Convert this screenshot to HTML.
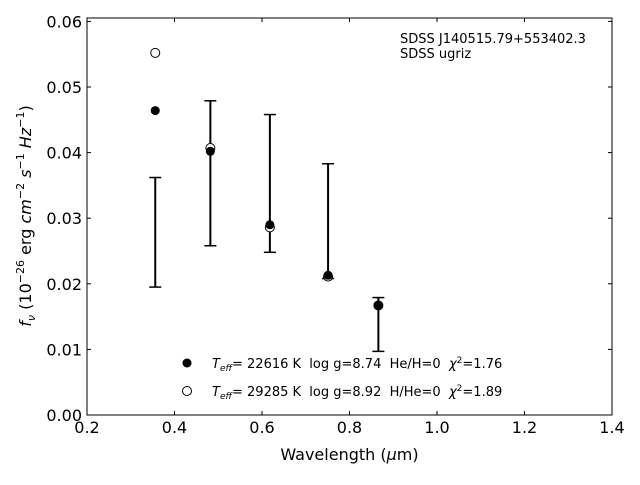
<!DOCTYPE html>
<html><head><meta charset="utf-8"><style>
body{margin:0;background:#fff;}
svg text{font-family:"DejaVu Sans","Liberation Sans",sans-serif;white-space:pre;}
</style></head><body>
<svg id="chart" width="640" height="480" xmlns="http://www.w3.org/2000/svg">
<rect x="87" y="18" width="525" height="397" fill="#fff" stroke="#000" stroke-width="1"/>
<g id="ticks"></g>
<g id="marks"></g>
<text x="349.5" y="460" font-size="16" text-anchor="middle">Wavelength (<tspan font-style="italic">μ</tspan>m)</text>
<text transform="translate(31,216) rotate(-90)" font-size="16" text-anchor="middle"><tspan font-style="italic">f</tspan><tspan font-style="italic" font-size="11" dy="4">ν</tspan><tspan dy="-4"> (10</tspan><tspan font-size="11" dy="-7">−26</tspan><tspan dy="7"> erg </tspan><tspan font-style="italic">cm</tspan><tspan font-size="11" dy="-7">−2</tspan><tspan dy="7" font-style="italic"> s</tspan><tspan font-size="11" dy="-7">−1</tspan><tspan dy="7" font-style="italic"> Hz</tspan><tspan font-size="11" dy="-7">−1</tspan><tspan dy="7">)</tspan></text>
<text x="400" y="43" font-size="13">SDSS J140515.79+553402.3</text>
<text x="400" y="58" font-size="13">SDSS ugriz</text>
<g>
<circle cx="187" cy="363" r="4.5" fill="#000"/>
<text x="212" y="368" font-size="13"><tspan font-style="italic">T</tspan><tspan font-style="italic" font-size="9" dy="3">eff</tspan><tspan dy="-3">= 22616 K  log g=8.74  He/H=0  </tspan><tspan font-style="italic">χ</tspan><tspan font-size="9" dy="-5">2</tspan><tspan dy="5">=1.76</tspan></text>
<circle cx="187" cy="391" r="4.5" fill="#fff" stroke="#000" stroke-width="1"/>
<text x="212" y="396" font-size="13"><tspan font-style="italic">T</tspan><tspan font-style="italic" font-size="9" dy="3">eff</tspan><tspan dy="-3">= 29285 K  log g=8.92  H/He=0  </tspan><tspan font-style="italic">χ</tspan><tspan font-size="9" dy="-5">2</tspan><tspan dy="5">=1.89</tspan></text>
</g>
</svg>
<script>
const wavelengths=[0.356,0.482,0.618,0.751,0.866];
const obsFlux=[0.02785,0.03685,0.0353,0.02955,0.0138];
const obsErr=[0.00835,0.01105,0.0105,0.00875,0.0041];
const model1=[0.0464,0.0402,0.0290,0.0213,0.0167];
const model2=[0.0552,0.0407,0.0286,0.0211,0.0167];
const xTicks=[0.2,0.4,0.6,0.8,1.0,1.2,1.4];
const xTickLabels=["0.2","0.4","0.6","0.8","1.0","1.2","1.4"];
const yTicks=[0,0.01,0.02,0.03,0.04,0.05,0.06];
const yTickLabels=["0.00","0.01","0.02","0.03","0.04","0.05","0.06"];
const NS="http://www.w3.org/2000/svg";
const X=v=>87+(v-0.2)*437.5;
const Y=v=>415-v*6560;
function mk(tag,attrs,parent){const e=document.createElementNS(NS,tag);for(const k in attrs)e.setAttribute(k,attrs[k]);parent.appendChild(e);return e;}
const tg=document.getElementById('ticks'),mg=document.getElementById('marks');
xTicks.forEach((t,i)=>{const x=X(t);
 let l=mk('line',{x1:x,x2:x,y1:415,y2:411,stroke:'#000'},tg);
 
 
 l=mk('line',{x1:x,x2:x,y1:18,y2:22,stroke:'#000'},tg);
 
 
 const tx=mk('text',{x:x,y:433,'font-size':16,'text-anchor':'middle'},tg);tx.textContent=xTickLabels[i];
 
 
});
yTicks.forEach((t,i)=>{const y=Y(t);
 let l=mk('line',{x1:87,x2:91,y1:y,y2:y,stroke:'#000'},tg);
 
 
 l=mk('line',{x1:612,x2:608,y1:y,y2:y,stroke:'#000'},tg);
 
 
 const tx=mk('text',{x:82,y:y+6,'font-size':16,'text-anchor':'end'},tg);tx.textContent=yTickLabels[i];
 
 
});
wavelengths.forEach((w,i)=>{const x=X(w),y1=Y(obsFlux[i]-obsErr[i]),y2=Y(obsFlux[i]+obsErr[i]);
 const g=mk('g',{},mg);
 
 
 mk('line',{x1:x,x2:x,y1:y1,y2:y2,stroke:'#000','stroke-width':2},g);
 mk('line',{x1:x-6,x2:x+6,y1:y1,y2:y1,stroke:'#000','stroke-width':1.5},g);
 mk('line',{x1:x-6,x2:x+6,y1:y2,y2:y2,stroke:'#000','stroke-width':1.5},g);
});
wavelengths.forEach((w,i)=>{
 const c=mk('circle',{cx:X(w),cy:Y(model2[i]),r:4.5,fill:'#fff',stroke:'#000','stroke-width':1},mg);
 
 
});
wavelengths.forEach((w,i)=>{
 const c=mk('circle',{cx:X(w),cy:Y(model1[i]),r:4.5,fill:'#000'},mg);
 
 
});
</script>
</body></html>
